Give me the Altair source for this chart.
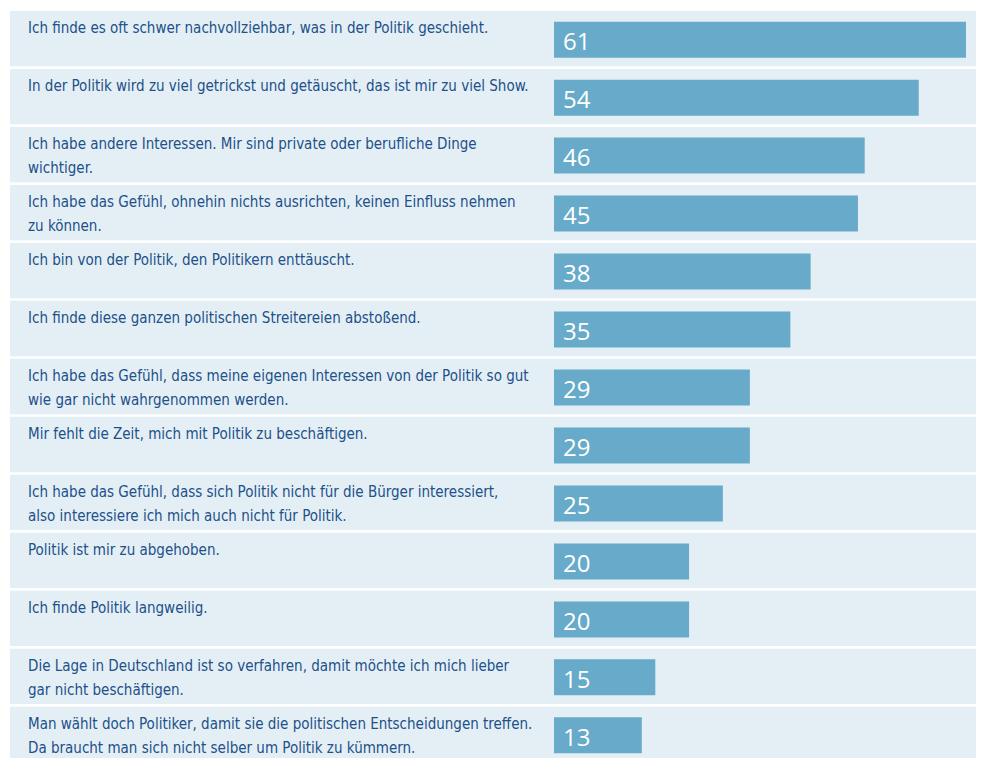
import altair as alt
import pandas as pd

statements = [
    "Ich finde es oft schwer nachvollziehbar, was in der Politik geschieht.",
    "In der Politik wird zu viel getrickst und getäuscht, das ist mir zu viel Show.",
    "Ich habe andere Interessen. Mir sind private oder berufliche Dinge\nwichtiger.",
    "Ich habe das Gefühl, ohnehin nichts ausrichten, keinen Einfluss nehmen\nzu können.",
    "Ich bin von der Politik, den Politikern enttäuscht.",
    "Ich finde diese ganzen politischen Streitereien abstoßend.",
    "Ich habe das Gefühl, dass meine eigenen Interessen von der Politik so gut\nwie gar nicht wahrgenommen werden.",
    "Mir fehlt die Zeit, mich mit Politik zu beschäftigen.",
    "Ich habe das Gefühl, dass sich Politik nicht für die Bürger interessiert,\nalso interessiere ich mich auch nicht für Politik.",
    "Politik ist mir zu abgehoben.",
    "Ich finde Politik langweilig.",
    "Die Lage in Deutschland ist so verfahren, damit möchte ich mich lieber\ngar nicht beschäftigen.",
    "Man wählt doch Politiker, damit sie die politischen Entscheidungen treffen.\nDa braucht man sich nicht selber um Politik zu kümmern.",
]
values = [61, 54, 46, 45, 38, 35, 29, 29, 25, 20, 20, 15, 13]

df = pd.DataFrame({"Aussage": statements, "Wert": values})

ROW_BG = "#e4eff5"
BAR = "#67aac9"
TXT = "#21508a"

y_enc = alt.Y(
    "Aussage:N",
    sort=statements,
    axis=None,
    scale=alt.Scale(paddingInner=0.045, paddingOuter=0),
)
x_scale = alt.Scale(domain=[0, 61], range=[544, 956])

base = alt.Chart(df)

bg = base.mark_rect(color=ROW_BG).encode(
    y=y_enc,
    x=alt.value(0),
    x2=alt.value(974),
)

bars = base.mark_bar(color=BAR, size=36, yOffset=1).encode(
    y=y_enc,
    x=alt.X("Wert:Q", scale=x_scale, axis=None),
)

nums = base.mark_text(
    color="white",
    font="Open Sans",
    fontSize=24,
    align="left",
    baseline="alphabetic",
    dx=9,
    dy=11.8,
).encode(
    y=y_enc,
    x=alt.datum(0, scale=x_scale),
    text=alt.Text("Wert:Q"),
)

labels = base.mark_text(
    color=TXT,
    font="DejaVu Sans Condensed",
    fontSize=15,
    align="left",
    baseline="alphabetic",
    lineBreak="\n",
    lineHeight=24.5,
    dy=-5.8,
).encode(
    y=y_enc,
    x=alt.value(18),
    text="Aussage:N",
)

chart = (
    alt.layer(bg, bars, nums, labels)
    .properties(
        width=974,
        height=751,
        padding={"left": 2, "top": 3, "right": -8, "bottom": -4},
        background="white",
    )
    .configure_view(stroke=None)
)

chart.save("out.html", embed_options={"renderer": "svg", "actions": False})
